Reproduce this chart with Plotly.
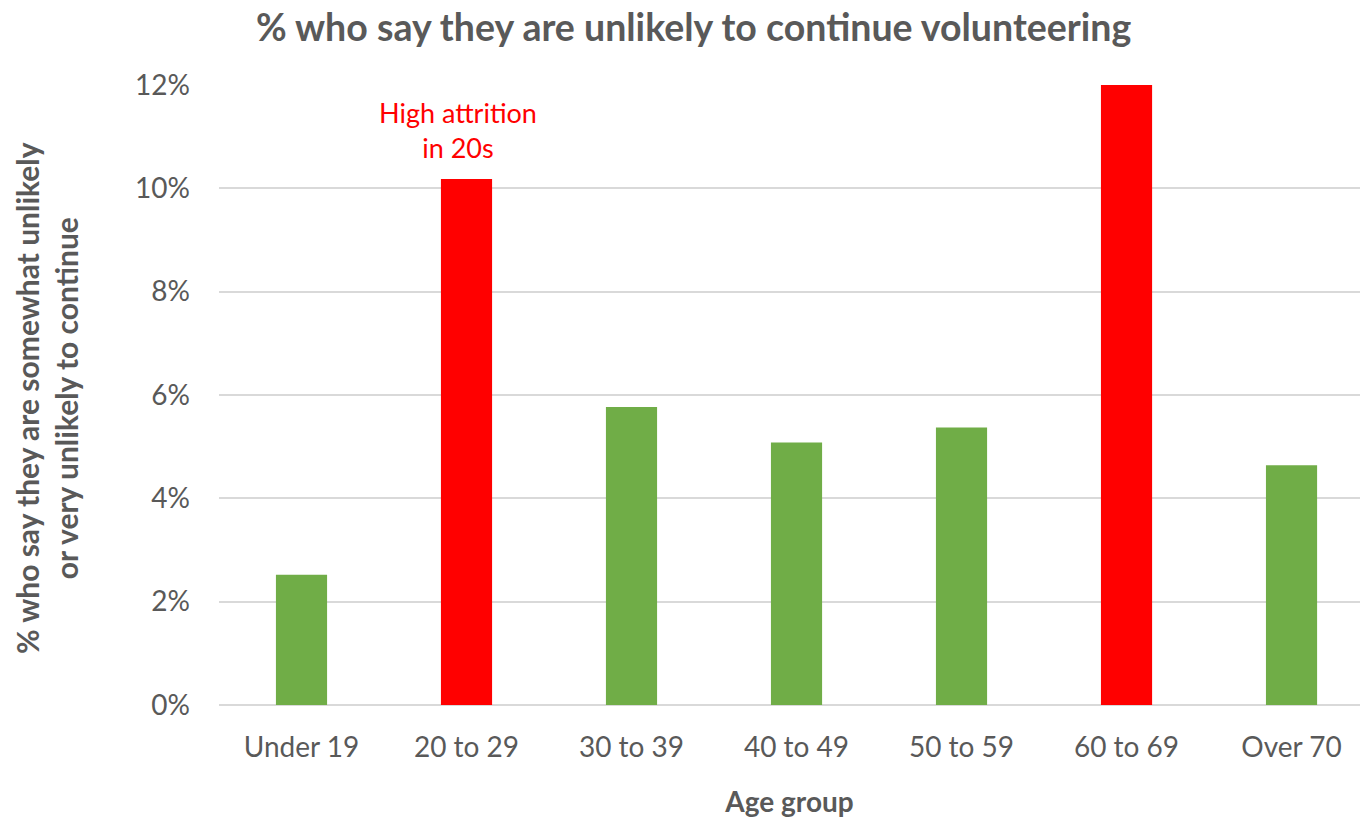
import plotly.graph_objects as go

categories = ["Under 19", "20 to 29", "30 to 39", "40 to 49", "50 to 59", "60 to 69", "Over 70"]
values = [0.0252, 0.1018, 0.0577, 0.0508, 0.0537, 0.1200, 0.0464]
highlight = [False, True, False, False, False, True, False]

GREEN = "#70AD47"
RED = "#FF0000"
GRAY = "#595959"
FONT = "Lato"

colors = [RED if h else GREEN for h in highlight]

fig = go.Figure()
fig.add_trace(go.Bar(
    x=list(range(len(categories))),
    y=values,
    marker=dict(color=colors, line=dict(width=0)),
    width=0.31,
    hoverinfo="skip",
))

fig.update_layout(
    width=1360, height=819,
    margin=dict(l=219, r=0, t=85, b=114),
    paper_bgcolor="white", plot_bgcolor="white",
    showlegend=False,
    font=dict(family=FONT, color=GRAY),
    title=dict(
        text="<b>% who say they are unlikely to continue volunteering</b>",
        x=0.51, xanchor="center", y=0.966, yanchor="middle",
        font=dict(family=FONT, size=37.5, color=GRAY),
    ),
    xaxis=dict(
        tickmode="array",
        tickvals=list(range(len(categories))),
        ticktext=categories,
        range=[-0.5, 6.415],
        showgrid=False, zeroline=False, showline=False,
        ticks="", ticklabelstandoff=23,
        tickfont=dict(family=FONT, size=28, color=GRAY),
        title=dict(text="<b>Age group</b>", font=dict(family=FONT, size=28, color=GRAY), standoff=30),
    ),
    yaxis=dict(
        range=[0, 0.12],
        tickvals=[0, 0.02, 0.04, 0.06, 0.08, 0.10, 0.12],
        tickformat=".0%",
        showgrid=True, gridcolor="#D9D9D9", gridwidth=2,
        zeroline=True, zerolinecolor="#D9D9D9", zerolinewidth=2,
        showline=False, ticks="",
        tickfont=dict(family=FONT, size=28, color=GRAY),
        ticklabelstandoff=28,
    ),
)

fig.add_annotation(
    xref="paper", yref="paper",
    x=(46 - 219) / 1141, y=0.495,
    text="<b>% who say they are somewhat unlikely<br>or very unlikely to continue</b>",
    textangle=-90, showarrow=False,
    font=dict(family=FONT, size=30, color=GRAY),
    xanchor="center", yanchor="middle", align="center",
)

fig.add_annotation(
    x=0.95, y=0.1113, xref="x", yref="y",
    text="High attrition<br>in 20s",
    showarrow=False,
    font=dict(family=FONT, size=27, color=RED),
    align="center", yanchor="middle",
)

fig.write_html("out.html")
